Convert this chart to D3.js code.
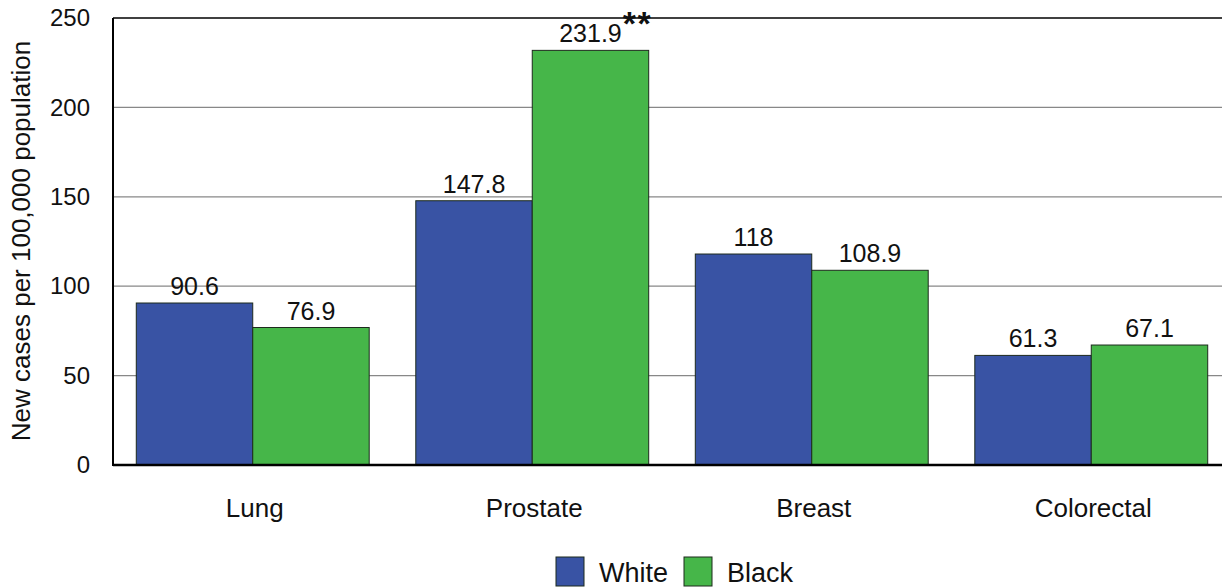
<!DOCTYPE html>
<html>
<head>
<meta charset="utf-8">
<script src="https://cdn.jsdelivr.net/npm/d3@7"></script>
<style>
  html, body { margin: 0; padding: 0; background: #fff; }
  svg { display: block; font-family: "Liberation Sans", Arial, Helvetica, sans-serif; }
</style>
</head>
<body>
<svg id="chart" width="1222" height="588"></svg>
<script>
// Cancer incidence by site, new cases per 100,000 population
const categories = ["Lung", "Prostate", "Breast", "Colorectal"];
const seriesNames = ["White", "Black"];
const whiteValues = [90.6, 147.8, 118, 61.3];
const blackValues = [76.9, 231.9, 108.9, 67.1];
const valueLabels = [["90.6", "76.9"], ["147.8", "231.9"], ["118", "108.9"], ["61.3", "67.1"]];
const notes = [["", ""], ["", "**"], ["", ""], ["", ""]];
const yTicks = [0, 50, 100, 150, 200, 250];
const colors = ["#3953a4", "#46b649"];

const svg = d3.select("#chart");
const plotLeft = 113, plotTop = 18, plotBottom = 465, plotRight = 1231;

const y = d3.scaleLinear().domain([0, 250]).range([plotBottom, plotTop]);
const x0 = d3.scaleBand().domain(categories).range([plotLeft, plotRight])
  .paddingInner(0.1667).paddingOuter(0.0833);
const x1 = d3.scaleBand().domain(seriesNames).range([0, x0.bandwidth()]);

// Gridlines
svg.append("g").selectAll("line").data(yTicks.filter(t => t > 0 && t < 250)).join("line")
  .attr("x1", plotLeft).attr("x2", 1222)
  .attr("y1", d => y(d)).attr("y2", d => y(d))
  .attr("stroke", "#888").attr("stroke-width", 1.2);
// Top border line
svg.append("line").attr("x1", plotLeft).attr("x2", 1222)
  .attr("y1", y(250)).attr("y2", y(250)).attr("stroke", "#000").attr("stroke-width", 1.3);

// Y axis
const yAxis = d3.axisLeft(y).tickValues(yTicks).tickSize(0).tickPadding(23);
const gy = svg.append("g").attr("transform", `translate(${plotLeft},0)`).call(yAxis);
gy.select(".domain").remove();
gy.selectAll("text").attr("font-size", 24).attr("fill", "#111")
  .attr("font-family", "Liberation Sans, Arial, sans-serif");

// Bars
const rows = categories.map((c, i) => ({ cat: c, i, vals: [whiteValues[i], blackValues[i]] }));
const groups = svg.append("g").selectAll("g").data(rows).join("g")
  .attr("transform", d => `translate(${x0(d.cat)},0)`);

groups.selectAll("rect").data(d => d.vals.map((v, j) => ({ v, j, i: d.i }))).join("rect")
  .attr("x", d => x1(seriesNames[d.j]))
  .attr("y", d => y(d.v))
  .attr("width", x1.bandwidth())
  .attr("height", d => y(0) - y(d.v))
  .attr("fill", d => colors[d.j])
  .attr("stroke", "#1d2a1d").attr("stroke-width", 1);

const labels = groups.selectAll("text.val").data(d => d.vals.map((v, j) => ({ v, j, i: d.i }))).join("text")
  .attr("class", "val")
  .attr("x", d => x1(seriesNames[d.j]) + x1.bandwidth() / 2)
  .attr("y", d => y(d.v) - 8)
  .attr("text-anchor", "middle")
  .attr("font-size", 25).attr("fill", "#111")
  .text(d => valueLabels[d.i][d.j]);

// Significance markers placed just after their value label
labels.filter(d => notes[d.i][d.j]).each(function(d) {
  const w = this.getComputedTextLength();
  d3.select(this.parentNode).append("text")
    .attr("x", x1(seriesNames[d.j]) + x1.bandwidth() / 2 + w / 2 + 1)
    .attr("y", y(d.v) - 8 - 7)
    .attr("font-size", 34).attr("font-weight", "bold").attr("letter-spacing", 1.5)
    .attr("fill", "#111")
    .text(notes[d.i][d.j]);
});

// Axis lines
svg.append("line").attr("x1", plotLeft).attr("x2", plotLeft).attr("y1", plotTop).attr("y2", plotBottom + 1)
  .attr("stroke", "#000").attr("stroke-width", 2);
svg.append("line").attr("x1", plotLeft).attr("x2", 1222).attr("y1", plotBottom).attr("y2", plotBottom)
  .attr("stroke", "#000").attr("stroke-width", 2.5);

// Category labels
svg.append("g").selectAll("text").data(categories).join("text")
  .attr("x", d => x0(d) + x0.bandwidth() / 2 + 2)
  .attr("y", 517)
  .attr("text-anchor", "middle")
  .attr("font-size", 26).attr("fill", "#111")
  .text(d => d);

// Y title
svg.append("text")
  .attr("transform", `translate(30,241) rotate(-90)`)
  .attr("text-anchor", "middle")
  .attr("font-size", 26).attr("fill", "#111")
  .text("New cases per 100,000 population");

// Legend
const legendX = [556, 684];
const legend = svg.append("g").selectAll("g").data(seriesNames).join("g")
  .attr("transform", (d, i) => `translate(${legendX[i]},557)`);
legend.append("rect").attr("width", 28).attr("height", 29)
  .attr("fill", (d, i) => colors[i]).attr("stroke", "#1d2a1d").attr("stroke-width", 1);
legend.append("text").attr("x", 43).attr("y", 25)
  .attr("font-size", 27).attr("fill", "#111").text(d => d);
</script>
</body>
</html>
